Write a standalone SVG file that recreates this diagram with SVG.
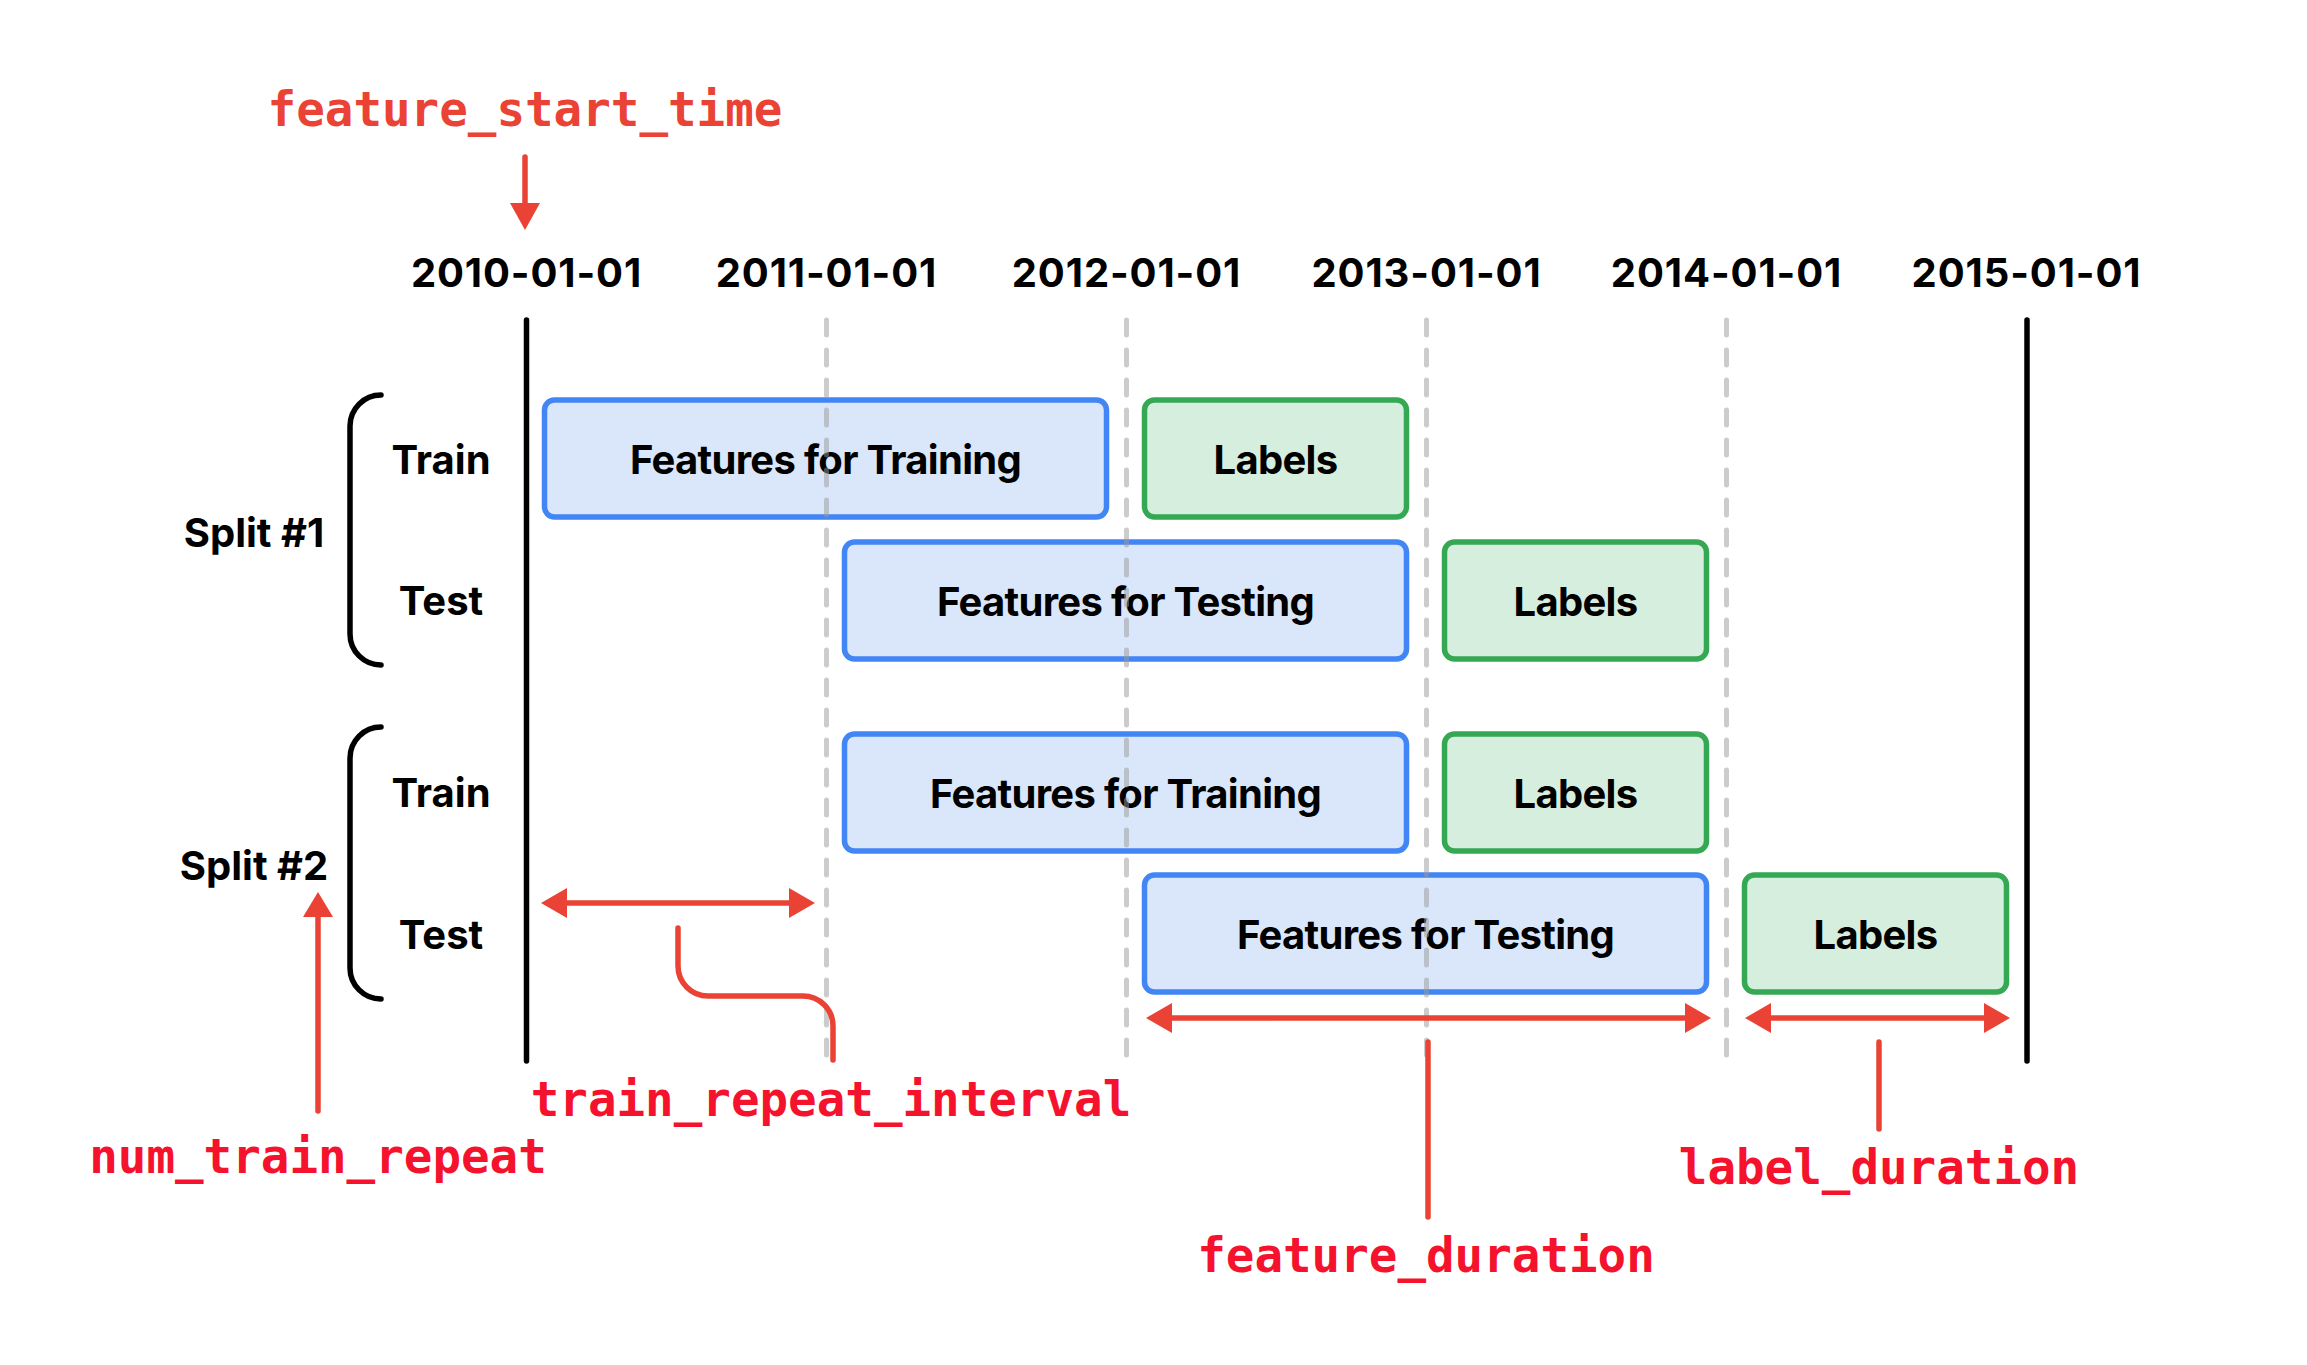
<svg xmlns="http://www.w3.org/2000/svg" width="2307" height="1365" viewBox="0 0 2307 1365">
<style>
  .lbl { font-family: Inter, "Liberation Sans", sans-serif; font-weight: 700; font-size: 40px; fill: #000; text-anchor: middle; }
  .date { letter-spacing: 0.9px; }
  .box { letter-spacing: -0.7px; }
  .mono { font-family: "DejaVu Sans Mono", "Liberation Mono", monospace; font-weight: 700; font-size: 47.5px; text-anchor: middle; }
  .ann { fill: #f5122d; }
  .ann0 { fill: #ea4335; }
  .feat { fill: #dae7fb; stroke: #4285f4; stroke-width: 5.5; }
  .lab { fill: #d6eedd; stroke: #34a853; stroke-width: 5.5; }
  .axis { stroke: #000; stroke-width: 5.5; stroke-linecap: round; fill: none; }
  .grid { stroke: #999; stroke-opacity: 0.5; stroke-width: 5; stroke-linecap: round; stroke-dasharray: 15 15; fill: none; }
  .red { stroke: #ea4335; stroke-width: 5.5; stroke-linecap: round; fill: none; }
  .head { fill: #ea4335; }
</style>

<g id="dates">
  <text class="lbl date" x="526.5" y="287">2010-01-01</text>
  <text class="lbl date" x="826.5" y="287">2011-01-01</text>
  <text class="lbl date" x="1126.5" y="287">2012-01-01</text>
  <text class="lbl date" x="1426.5" y="287">2013-01-01</text>
  <text class="lbl date" x="1726.5" y="287">2014-01-01</text>
  <text class="lbl date" x="2026.5" y="287">2015-01-01</text>
</g>

<g id="axis-lines">
  <line class="axis" x1="526.5" y1="320" x2="526.5" y2="1061"/>
  <line class="axis" x1="2027" y1="320" x2="2027" y2="1061"/>
</g>

<g id="split1">
  <path class="axis" d="M381 395 A31 31 0 0 0 350 426 V634 A31 31 0 0 0 381 665"/>
  <text class="lbl" x="254" y="547">Split #1</text>
  <text class="lbl" x="441" y="474">Train</text>
  <text class="lbl" x="441" y="615">Test</text>
</g>
<g id="split2">
  <path class="axis" d="M381 727 A31 31 0 0 0 350 758 V968 A31 31 0 0 0 381 999"/>
  <text class="lbl" x="254" y="880">Split #2</text>
  <text class="lbl" x="441" y="807">Train</text>
  <text class="lbl" x="441" y="949">Test</text>
</g>

<g id="s1-train-features">
  <rect class="feat" x="544.5" y="400" width="562" height="117" rx="10"/>
  <text class="lbl box" x="825.5" y="474">Features for Training</text>
</g>
<g id="s1-train-labels">
  <rect class="lab" x="1144.5" y="400" width="262" height="117" rx="10"/>
  <text class="lbl box" x="1275.5" y="474">Labels</text>
</g>
<g id="s1-test-features">
  <rect class="feat" x="844.5" y="542" width="562" height="117" rx="10"/>
  <text class="lbl box" x="1125.5" y="616">Features for Testing</text>
</g>
<g id="s1-test-labels">
  <rect class="lab" x="1444.5" y="542" width="262" height="117" rx="10"/>
  <text class="lbl box" x="1575.5" y="616">Labels</text>
</g>
<g id="s2-train-features">
  <rect class="feat" x="844.5" y="734" width="562" height="117" rx="10"/>
  <text class="lbl box" x="1125.5" y="808">Features for Training</text>
</g>
<g id="s2-train-labels">
  <rect class="lab" x="1444.5" y="734" width="262" height="117" rx="10"/>
  <text class="lbl box" x="1575.5" y="808">Labels</text>
</g>
<g id="s2-test-features">
  <rect class="feat" x="1144.5" y="875" width="562" height="117" rx="10"/>
  <text class="lbl box" x="1425.5" y="949">Features for Testing</text>
</g>
<g id="s2-test-labels">
  <rect class="lab" x="1744.5" y="875" width="262" height="117" rx="10"/>
  <text class="lbl box" x="1875.5" y="949">Labels</text>
</g>

<g id="grid-lines">
  <line class="grid" x1="826.5" y1="320" x2="826.5" y2="1061"/>
  <line class="grid" x1="1126.5" y1="320" x2="1126.5" y2="1061"/>
  <line class="grid" x1="1426.5" y1="320" x2="1426.5" y2="1061"/>
  <line class="grid" x1="1726.5" y1="320" x2="1726.5" y2="1061"/>
</g>

<g id="connectors">
  <line class="red" x1="525" y1="157" x2="525" y2="205"/>
  <polygon class="head" points="510,203 540,203 525,230"/>
  <line class="red" x1="318" y1="1111" x2="318" y2="915"/>
  <polygon class="head" points="303,917 333,917 318,892"/>
  <line class="red" x1="565" y1="903" x2="791" y2="903" stroke-linecap="butt"/>
  <polygon class="head" points="541,903 567,888 567,918"/>
  <polygon class="head" points="815,903 789,888 789,918"/>
  <path class="red" d="M678 928 V966 A30 30 0 0 0 708 996 H803 A30 30 0 0 1 833 1026 V1060"/>
  <line class="red" x1="1170" y1="1018" x2="1687" y2="1018" stroke-linecap="butt"/>
  <polygon class="head" points="1146,1018 1172,1003 1172,1033"/>
  <polygon class="head" points="1711,1018 1685,1003 1685,1033"/>
  <line class="red" x1="1428" y1="1042" x2="1428" y2="1217"/>
  <line class="red" x1="1769" y1="1018" x2="1986" y2="1018" stroke-linecap="butt"/>
  <polygon class="head" points="1745,1018 1771,1003 1771,1033"/>
  <polygon class="head" points="2010,1018 1984,1003 1984,1033"/>
  <line class="red" x1="1879" y1="1042" x2="1879" y2="1129"/>
</g>

<g id="annotations">
  <text class="mono ann0" x="525" y="126">feature_start_time</text>
  <text class="mono ann" x="831" y="1116">train_repeat_interval</text>
  <text class="mono ann" x="318" y="1173">num_train_repeat</text>
  <text class="mono ann" x="1426" y="1272">feature_duration</text>
  <text class="mono ann" x="1879" y="1184">label_duration</text>
</g>
</svg>
